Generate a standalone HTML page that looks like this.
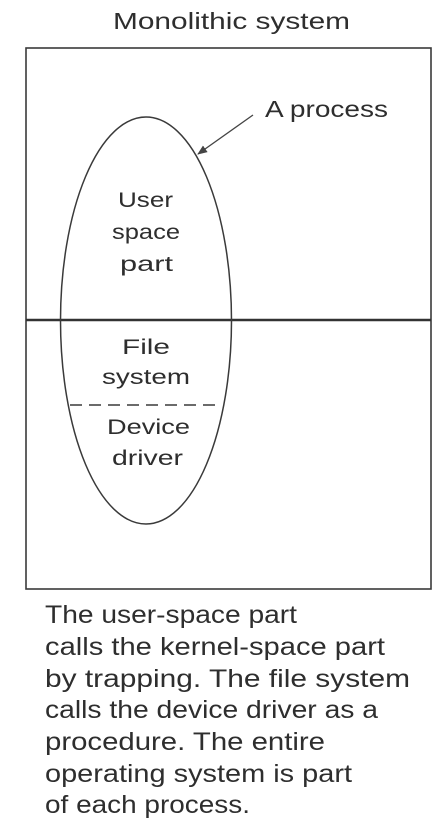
<!DOCTYPE html>
<html><head><meta charset="utf-8"><style>
html,body{margin:0;padding:0;background:#fff;}
svg{display:block;}
text{font-family:"Liberation Sans",sans-serif;fill:#2e2e2e;}
</style></head><body>
<svg width="445" height="836" viewBox="0 0 445 836" xmlns="http://www.w3.org/2000/svg">
<defs><marker id="ah" markerWidth="10" markerHeight="8" refX="9" refY="4" orient="auto" markerUnits="userSpaceOnUse"><path d="M0,0 L10,4 L0,8 Z" fill="#444"/></marker></defs>
<text x="113" y="29" font-size="23" textLength="237" lengthAdjust="spacingAndGlyphs">Monolithic system</text>
<rect x="26" y="48" width="405" height="541" fill="none" stroke="#3a3a3a" stroke-width="1.6"/>
<line x1="26" y1="320" x2="431" y2="320" stroke="#333" stroke-width="2.4"/>
<ellipse cx="146" cy="320.5" rx="85.5" ry="203.5" fill="none" stroke="#3a3a3a" stroke-width="1.5"/>
<line x1="70" y1="405" x2="222" y2="405" stroke="#3a3a3a" stroke-width="1.5" stroke-dasharray="12,7"/>
<line x1="253" y1="115" x2="198" y2="154" stroke="#444" stroke-width="1.3" marker-end="url(#ah)"/>
<text x="265" y="117" font-size="23" textLength="123" lengthAdjust="spacingAndGlyphs">A process</text>
<g font-size="21">
<text x="118" y="207" textLength="55" lengthAdjust="spacingAndGlyphs">User</text>
<text x="112" y="239" textLength="68" lengthAdjust="spacingAndGlyphs">space</text>
<text x="120" y="271" textLength="53" lengthAdjust="spacingAndGlyphs">part</text>
<text x="122" y="354" textLength="48" lengthAdjust="spacingAndGlyphs">File</text>
<text x="102" y="384" textLength="88" lengthAdjust="spacingAndGlyphs">system</text>
<text x="107" y="434" textLength="83" lengthAdjust="spacingAndGlyphs">Device</text>
<text x="112" y="465" textLength="71" lengthAdjust="spacingAndGlyphs">driver</text>
</g>
<g font-size="25">
<text x="45" y="623" textLength="252" lengthAdjust="spacingAndGlyphs">The user-space part</text>
<text x="45" y="655" textLength="340" lengthAdjust="spacingAndGlyphs">calls the kernel-space part</text>
<text x="45" y="687" textLength="365" lengthAdjust="spacingAndGlyphs">by trapping. The file system</text>
<text x="45" y="718" textLength="333" lengthAdjust="spacingAndGlyphs">calls the device driver as a</text>
<text x="45" y="750" textLength="280" lengthAdjust="spacingAndGlyphs">procedure. The entire</text>
<text x="45" y="782" textLength="307" lengthAdjust="spacingAndGlyphs">operating system is part</text>
<text x="45" y="813" textLength="205" lengthAdjust="spacingAndGlyphs">of each process.</text>
</g>
</svg>
</body></html>
